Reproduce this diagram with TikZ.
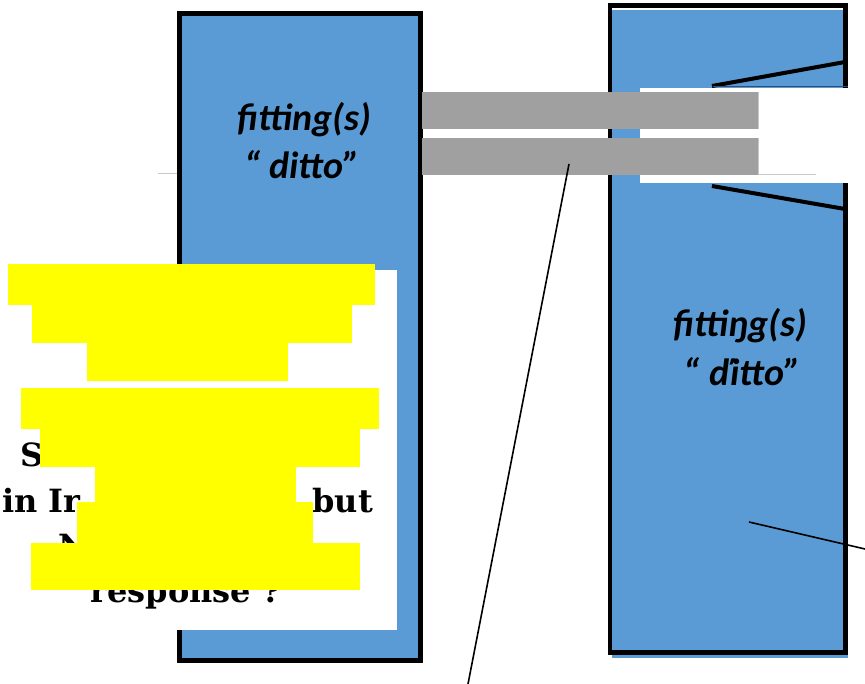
\documentclass[tikz,border=0pt]{standalone}
\usepackage{fontspec}
\setmainfont{Carlito}
\newfontfamily\heavyserif{DejaVu Serif}
\definecolor{boxblue}{HTML}{5B9BD5}
\definecolor{bargray}{HTML}{A0A0A0}
\definecolor{edgegray}{HTML}{C8C8C8}
\definecolor{hlyellow}{HTML}{FFFF00}
\definecolor{darkedge}{HTML}{2F4F70}
\begin{document}
\begin{tikzpicture}[x=1pt,y=-1pt,
  boxfill/.style={fill=boxblue,draw=none},
  boxedge/.style={draw=black,line width=5pt},
  yel/.style={fill=hlyellow,draw=none},
  lab/.style={font=\fontsize{38}{42}\selectfont\bfseries\itshape,anchor=base,inner sep=0},
  heavy/.style={font=\heavyserif\fontsize{32}{36}\selectfont\bfseries,inner sep=0},
  leader/.style={draw=black,line width=1.6pt},
  slant/.style={draw=black,line width=4pt}]
\useasboundingbox (0,0) rectangle (865,684);
\fill[white] (0,0) rectangle (865,684);
% thin background line
\draw[edgegray,line width=1pt] (158,174) -- (816,174);
% right box
\fill[boxfill] (612,10) rectangle (847.5,658);
\draw[boxedge,line width=4.5pt] (610,5.5) rectangle (845.5,652.5);
\draw[slant] (712,86) -- (845,62);
\draw[slant] (712,186) -- (845,209);
% white opening in right box
\fill[white] (640,88) rectangle (865,183);
\draw[darkedge,line width=1pt] (713,86.5) -- (848,86.5);
\draw[edgegray,line width=1pt] (640,174.5) -- (816,174.5);
% left box
\fill[boxfill] (179,13) rectangle (421,661);
\draw[boxedge] (179.5,13.5) rectangle (420.5,660);
% gray bars
\fill[bargray] (422,92.5) rectangle (758,129.5);
\fill[bargray] (422,137.8) rectangle (758,175);
\draw[edgegray,line width=0.8pt] (758,92.5) -- (758,129.5) (758,137.8) -- (758,175);
% labels
\node[lab] (l1) at (304,131) {fitting(s)};
\node[lab] (l2) at (302,179) {“ ditto”};
\node[lab] (r1) at (740,337) {fittiŋg(s)};
\node[lab] (r2) at (742,386) {“ ďitto”};
% leader lines
\coordinate (c1) at (569,164);
\coordinate (c2) at (468,684);
\draw[leader] (c1) -- (c2);
\coordinate (c3) at (749,522);
\coordinate (c4) at (865,549);
\draw[leader] (c3) -- (c4);
% white panel with text fragments
\fill[white] (0,270) rectangle (397,630);
\node[heavy,anchor=base west] (t1) at (20,467) {S};
\node[heavy,anchor=base west] (t2) at (325,467) {e};
\node[heavy,anchor=base west] (t3) at (2,512) {in Ir};
\node[heavy,anchor=base east] (t4) at (373,512) {but};
\node[heavy,anchor=base west] (t5) at (58,557) {N};
\node[heavy,anchor=base] (t6) at (186,602) {response ?};
% yellow blocks
\fill[yel] (8,264) rectangle (375,305);
\fill[yel] (32,304) rectangle (352,343);
\fill[yel] (87,342) rectangle (288,381);
\fill[yel] (21,388) rectangle (379,429);
\fill[yel] (40,428) rectangle (360,467);
\fill[yel] (95,466) rectangle (296,503);
\fill[yel] (77,502) rectangle (313,543);
\fill[yel] (31,543) rectangle (360,590);
\end{tikzpicture}
\end{document}
